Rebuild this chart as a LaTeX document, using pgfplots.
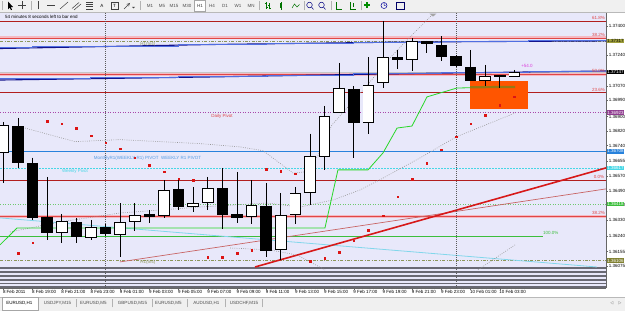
\documentclass[border=0pt]{standalone}
\usepackage{pgfplots}
\pgfplotsset{compat=1.18}
\usepackage{pgfplotstable}
\usepackage{fontspec}
\setmainfont{Liberation Sans}
\newcommand{\tf}{\fontsize{4.5}{5}\selectfont}
\definecolor{chartbg}{RGB}{232,232,250}
\definecolor{mttool}{RGB}{240,240,240}
\definecolor{fibred}{RGB}{225,70,70}
\definecolor{mtdarkred}{RGB}{178,30,30}
\definecolor{pinkhalo}{RGB}{245,185,195}
\definecolor{mtnavy}{RGB}{20,20,140}
\definecolor{mtroyal}{RGB}{80,110,225}
\definecolor{pivotblue}{RGB}{40,130,220}
\definecolor{pivotcyan}{RGB}{70,215,230}
\definecolor{pivotpurple}{RGB}{170,70,170}
\definecolor{dotgreen}{RGB}{110,200,110}
\definecolor{fibgreen}{RGB}{60,190,60}
\definecolor{mtlime}{RGB}{40,215,40}
\definecolor{trendred}{RGB}{215,25,25}
\definecolor{thinred}{RGB}{200,100,100}
\definecolor{mtlightcyan}{RGB}{130,215,235}
\definecolor{bandgray}{RGB}{150,150,150}
\definecolor{olivegray}{RGB}{140,150,90}
\definecolor{stripegray}{RGB}{105,105,115}
\definecolor{mtorange}{RGB}{255,85,0}
\definecolor{olivebar}{RGB}{150,120,20}
\definecolor{sardot}{RGB}{220,20,20}
\definecolor{mtmagenta}{RGB}{220,60,220}
\definecolor{boxolive}{RGB}{160,160,60}

\pgfplotstableread{
x o h l c
0 1.36701 1.36871 1.36534 1.36854
1 1.36848 1.36893 1.36617 1.36644
2 1.36644 1.36673 1.36330 1.36341
3 1.36346 1.36567 1.36219 1.36258
4 1.36258 1.36363 1.36203 1.36324
5 1.36319 1.36341 1.36203 1.36236
6 1.36230 1.36330 1.36219 1.36291
7 1.36291 1.36308 1.36241 1.36252
8 1.36247 1.36423 1.36125 1.36319
9 1.36319 1.36423 1.36269 1.36357
10 1.36363 1.36385 1.36313 1.36346
11 1.36352 1.36550 1.36341 1.36495
12 1.36501 1.36550 1.36385 1.36401
13 1.36401 1.36512 1.36374 1.36423
14 1.36423 1.36567 1.36385 1.36506
15 1.36506 1.36617 1.36280 1.36357
16 1.36363 1.36595 1.36313 1.36341
17 1.36346 1.36550 1.36308 1.36412
18 1.36407 1.36534 1.36125 1.36158
19 1.36164 1.36479 1.36109 1.36357
20 1.36357 1.36512 1.36308 1.36479
21 1.36479 1.36806 1.36412 1.36684
22 1.36679 1.36959 1.36606 1.36904
23 1.36920 1.37196 1.36920 1.37058
24 1.37053 1.37069 1.36673 1.36865
25 1.36865 1.37229 1.36806 1.37075
26 1.37086 1.37428 1.37058 1.37229
27 1.37229 1.37268 1.37163 1.37213
28 1.37213 1.37334 1.37152 1.37318
29 1.37318 1.37318 1.37251 1.37301
30 1.37296 1.37345 1.37207 1.37229
31 1.37235 1.37240 1.37174 1.37180
32 1.37174 1.37268 1.37097 1.37097
33 1.37097 1.37185 1.37069 1.37125
34 1.37130 1.37130 1.37058 1.37119
35 1.37119 1.37158 1.37119 1.37147
}\candles

\pgfplotstableread{
x y
1 1.36147
2 1.36203
3 1.36876
4 1.36860
5 1.36837
6 1.36795
7 1.36756
8 1.36723
9 1.36673
10 1.36633
11 1.36595
12 1.36556
13 1.36550
14 1.36125
15 1.36125
16 1.36147
17 1.36164
18 1.36611
19 1.36600
20 1.36584
21 1.36103
22 1.36120
23 1.36153
24 1.36214
25 1.36274
26 1.36352
27 1.36457
28 1.36556
29 1.36644
30 1.36717
31 1.36789
32 1.36860
33 1.36909
34 1.36964
35 1.37009
}\sar

\newcommand{\hlev}[2]{\addplot[#1] coordinates {(-0.226,#2) (41.28,#2)};}

\begin{document}
\begin{tikzpicture}[x=1pt,y=1pt]
\useasboundingbox (0,0) rectangle (625,311);
\fill[white] (0,0) rectangle (625,311);
% ---------- toolbar ----------
\fill[mttool] (0,299) rectangle (625,311);
\draw[gray!55] (0,298.8) -- (625,298.8);
\begin{scope}[line width=0.5pt, black!75]
 \draw[gray!60] (2,300.5) -- (2,309.5);
 \fill[black] (8,309.5) -- (8,301.5) -- (9.8,303.3) -- (11,300.8) -- (12,301.3) -- (10.8,303.8) -- (13,304) -- cycle;
 \draw (18,305.5) -- (26,305.5) (22,301.5) -- (22,309.5);
 \draw[gray!60] (31,300.5) -- (31,309.5);
 \draw (38,301.5) -- (38,309.5);
 \draw (47,305.5) -- (55,305.5);
 \draw (60,302) -- (68,309);
 \draw (72,302.5) -- (79,308.5) (74,301) -- (81,307);
 \draw (86,302) -- (93,302) (86,304.5)--(93,304.5) (86,307)--(93,307) (86,309)--(93,309);
 \node[font=\tf, black] at (102,305.3) {A};
 \draw (111,301.5) rectangle (118,309); \node[font=\tf, black] at (114.5,305.3) {T};
 \draw[-stealth] (124,302) -- (130,308);
 \fill (132,304) -- (135,304) -- (133.5,302.5) -- cycle;
 \draw[gray!60] (140,300.5)--(140,309.5);
 \fill[white] (194.5,300) rectangle (205.5,310.5); \draw[gray!70] (194.5,300) rectangle (205.5,310.5);
 \node[font=\tf, black!70] at (150,305.3) {M1};
 \node[font=\tf, black!70] at (162,305.3) {M5};
 \node[font=\tf, black!70] at (174,305.3) {M15};
 \node[font=\tf, black!70] at (187,305.3) {M30};
 \node[font=\tf, black!80] at (200,305.3) {H1};
 \node[font=\tf, black!70] at (212,305.3) {H4};
 \node[font=\tf, black!70] at (225,305.3) {D1};
 \node[font=\tf, black!70] at (238,305.3) {W1};
 \node[font=\tf, black!70] at (251,305.3) {MN};
 \draw[gray!60] (259,300.5)--(259,309.5);
 \draw[green!45!black] (266,302)--(266,309) (264.5,307.5)--(266,307.5) (266,304)--(267.5,304) (269.5,301.5)--(269.5,308) (268,306)--(269.5,306) (269.5,303)--(271,303);
 \draw[green!45!black] (281,301)--(281,309); \fill[green!45!black] (279.8,303) rectangle (282.2,307.5);
 \draw[green!45!black] (292,303)--(294.5,307)--(297,304)--(299.5,306.5);
 \draw[gray!60] (304,300.5)--(304,309.5);
 \draw[blue!50!black] (309.5,306) circle (2.8) (311.5,304)--(313.5,301.5);
 \draw[blue!50!black] (321.5,306) circle (2.8) (323.5,304)--(325.5,301.5);
 \draw[gray!60] (331,300.5)--(331,309.5);
 \draw[green!45!black] (336,302)--(336,309) (336,302)--(342,302);
 \draw[green!45!black] (350,302)--(350,309) (350,302)--(356,302) (353,304)--(353,308);
 \draw[gray!60] (361,300.5)--(361,309.5);
 \fill[green!55!black] (364,304.5) rectangle (370,306.5); \fill[green!55!black] (366,302.5) rectangle (368,308.5);
 \draw[blue!60!black] (384,305.5) circle (3) (384,305.5)--(384,307.5) (384,305.5)--(385.5,305.5);
 \draw[blue!40!black] (396,302) rectangle (404,309);
\end{scope}
% ---------- tab bar ----------
\fill[mttool] (0,0) rectangle (625,14);
\draw[gray!55] (0,14) -- (625,14);
\fill[white] (2,1) rectangle (38,13.6); \draw[gray!70] (2,1) rectangle (38,13.6);
\node[font=\tf] at (19.5,7.5) {EURUSD,H1};
\node[font=\tf, black!70] at (57.5,7.5) {USDJPY,M15};
\node[font=\tf, black!70] at (93.5,7.5) {EURUSD,M5};
\node[font=\tf, black!70] at (132.5,7.5) {GBPUSD,M15};
\node[font=\tf, black!70] at (168.5,7.5) {EURUSD,M5};
\node[font=\tf, black!70] at (206.5,7.5) {AUDUSD,H1};
\node[font=\tf, black!70] at (244,7.5) {USDCHF,M15};
\foreach \s in {76,112,152,187,225,262} {\draw[gray!60] (\s,3.5) -- (\s,11.5);}
\node[font=\tf, gray] at (612,7.5) {\(\triangleleft\)};
\node[font=\tf, gray] at (620,7.5) {\(\triangleright\)};
% ---------- chart ----------
\begin{axis}[
  at={(0pt,23pt)}, anchor=south west,
  width=606pt, height=275pt, scale only axis,
  xmin=-0.226, xmax=41.28, ymin=1.35954, ymax=1.37472,
  clip mode=individual,
  axis background/.style={fill=chartbg},
  axis x line*=bottom, axis y line*=right,
  axis line style={draw=black!60, line width=0.5pt, -},
  tick align=outside, major tick length=1.8pt,
  tick style={black!60, line width=0.4pt},
  scaled y ticks=false,
  xtick={0,2,...,34},
  xticklabels={8 Feb 2011, 8 Feb 19:00, 8 Feb 21:00, 8 Feb 23:00, 9 Feb 01:00, 9 Feb 03:00, 9 Feb 05:00, 9 Feb 07:00, 9 Feb 09:00, 9 Feb 11:00, 9 Feb 13:00, 9 Feb 15:00, 9 Feb 17:00, 9 Feb 19:00, 9 Feb 21:00, 9 Feb 23:00, 10 Feb 01:00, 10 Feb 03:00},
  xticklabel style={font=\tf, anchor=north west, inner sep=0.5pt, xshift=-1pt},
  ytick={1.36075,1.36155,1.36240,1.36330,1.36410,1.36490,1.36570,1.36655,1.36740,1.36820,1.36900,1.36990,1.37070,1.37240,1.37400},
  yticklabels={1.36075,1.36155,1.36240,1.36330,1.36410,1.36490,1.36570,1.36655,1.36740,1.36820,1.36900,1.36990,1.37070,1.37240,1.37400},
  yticklabel style={font=\tf, anchor=west, inner sep=0.5pt, xshift=0.3pt},
]
% bottom stripes
\hlev{stripegray, line width=1.8pt}{1.36065}
\hlev{stripegray, line width=1.8pt}{1.36043}
\hlev{stripegray, line width=1.8pt}{1.36020}
\hlev{stripegray, line width=1.8pt}{1.35998}
\hlev{stripegray, line width=1.8pt}{1.35979}
\hlev{stripegray, line width=1.8pt}{1.35960}
% horizontal levels
\hlev{mtdarkred, line width=0.8pt}{1.37428}
\hlev{pinkhalo, line width=3pt}{1.37334}
\hlev{fibred, line width=0.8pt}{1.37334}
\hlev{olivegray, line width=0.6pt, dash pattern=on 3pt off 1.5pt on 0.8pt off 1.5pt}{1.37317}
\hlev{gray!45, line width=0.7pt}{1.37147}
\hlev{pinkhalo, line width=3pt}{1.37133}
\hlev{fibred, line width=0.8pt}{1.37133}
\hlev{mtdarkred, line width=0.8pt}{1.37031}
\hlev{pivotpurple, line width=0.8pt, dash pattern=on 1pt off 1.5pt}{1.36923}
\hlev{pivotblue, line width=1.8pt}{1.36708}
\hlev{pivotcyan, line width=0.7pt, dash pattern=on 1.5pt off 1.5pt}{1.36617}
\hlev{mtdarkred, line width=0.9pt}{1.36548}
\hlev{dotgreen, line width=0.7pt, dash pattern=on 1pt off 1.5pt}{1.36415}
\hlev{pinkhalo, line width=3pt}{1.36349}
\hlev{fibred, line width=0.9pt}{1.36349}
\addplot[fibgreen, line width=0.9pt] coordinates {(-0.226,1.36238) (36.97,1.36238)};
\hlev{olivegray, line width=0.6pt, dash pattern=on 3pt off 1.5pt on 0.8pt off 1.5pt}{1.36106}
% moving-average style lines (navy with royal-blue steps)
\addplot[mtnavy, line width=1.1pt] coordinates {(-0.226,1.37276) (14.16,1.37298) (27.86,1.37312) (41.28,1.37318)};
\addplot[mtroyal, line width=0.9pt, const plot] coordinates {(-0.226,1.37282) (2,1.37287) (6,1.37290) (12,1.37298) (18,1.37304) (24,1.37309) (30,1.37315) (36,1.37318) (41.28,1.37318)};
\addplot[mtnavy, line width=1.1pt] coordinates {(-0.226,1.37102) (14.16,1.37119) (27.86,1.37138) (41.28,1.37152)};
\addplot[mtroyal, line width=0.9pt, const plot] coordinates {(-0.226,1.37108) (2,1.37111) (6,1.37116) (12,1.37122) (18,1.37127) (24,1.37136) (30,1.37144) (36,1.37149) (41.28,1.37149)};
% trend lines
\addplot[mtlightcyan, line width=0.8pt] coordinates {(-0.226,1.36341) (40.66,1.36070)};
\addplot[thinred, line width=0.7pt] coordinates {(7.99,1.36098) (41.28,1.36501)};
\addplot[trendred, line width=1.6pt] coordinates {(17.24,1.36070) (41.28,1.36617)};
% band lines (dotted)
\addplot[bandgray, line width=0.6pt, dash pattern=on 0.8pt off 1.4pt] coordinates {(1.486,1.36837) (4.911,1.36762) (7.993,1.36773) (13.47,1.36751) (16.21,1.36733) (17.79,1.36712) (19.84,1.36589) (20.66,1.36595) (21.55,1.36684) (22.51,1.36854) (23.54,1.36948) (24.77,1.37058) (26.35,1.37213) (27.86,1.37340) (29.36,1.37461)};
\addplot[bandgray, line width=0.6pt, dash pattern=on 0.8pt off 1.4pt] coordinates {(0.459,1.36263) (3.884,1.36319) (7.993,1.36368) (13.47,1.36401) (18.06,1.36423) (20.32,1.36401) (22.58,1.36440) (24.43,1.36495) (26.01,1.36561) (28.54,1.36672) (31.01,1.36788) (35.05,1.36920)};
\addplot[bandgray, line width=0.6pt, dash pattern=on 0.8pt off 1.4pt] coordinates {(15.53,1.36175) (18.27,1.36164) (20.12,1.36136) (22.03,1.36054)};
\addplot[bandgray, line width=0.6pt, dash pattern=on 0.8pt off 1.4pt] coordinates {(32.51,1.36054) (35.05,1.36192)};
% period separators
\addplot[black!65, line width=0.6pt, dash pattern=on 1pt off 1pt] coordinates {(7,1.35954) (7,1.37472)};
\addplot[black!65, line width=0.6pt, dash pattern=on 1pt off 1pt] coordinates {(31,1.35954) (31,1.37472)};
% step line (green)
\addplot[mtlime, line width=0.8pt] coordinates {(-0.226,1.36192) (0.938,1.36285) (22.03,1.36285) (22.92,1.36606) (24.98,1.36606) (26.01,1.36700) (26.97,1.36837) (27.99,1.36848) (29.02,1.37009) (31.07,1.37058) (35.05,1.37064)};
% rectangle
\addplot[fill=mtorange, draw=none] coordinates {(31.97,1.37097) (35.94,1.37097) (35.94,1.36942) (31.97,1.36942)} --cycle;
\addplot[olivebar, line width=2.2pt] coordinates {(31.97,1.37062) (35.05,1.37064)};
% parabolic SAR dots
\addplot[only marks, mark=square*, mark size=0.8pt, sardot] table[x=x, y=y] {\sar};
% candle wicks
\addplot[draw=none, mark=none, error bars/.cd, y dir=minus, y explicit, error mark=none,
  error bar style={draw=black, line width=0.8pt, solid}]
  table[x=x, y=h, y error minus expr={\thisrow{h}-\thisrow{l}}] {\candles};
% candle bodies (black outline)
\addplot[draw=none, mark=none, error bars/.cd, y dir=minus, y explicit, error mark=none,
  error bar style={draw=black, line width=11.6pt, line cap=butt, solid}]
  table[x=x, y expr={max(\thisrow{o},\thisrow{c})}, y error minus expr={abs(\thisrow{o}-\thisrow{c})}] {\candles};
% white bodies for rising candles
\addplot[draw=none, mark=none, error bars/.cd, y dir=minus, y explicit, error mark=none,
  error bar style={draw=white, line width=9.8pt, line cap=butt, solid}]
  table[x=x, y expr={\thisrow{c}-0.00005}, y error minus expr={max(\thisrow{c}-\thisrow{o}-0.0001,0)}] {\candles};
% texts
\node[font=\tf, anchor=west, inner sep=0] at (axis cs:0.116,1.37453) {54 minutes 8 seconds left to bar end};
\node[font=\tf, olivegray] at (axis cs:9.91,1.37301) {H1(5/4)};
\node[font=\tf, olivegray] at (axis cs:9.91,1.36094) {H1(5/4)};
\node[font=\tf, fibred] at (axis cs:14.98,1.36902) {Daily Pivot};
\node[font=\tf, pivotcyan] at (axis cs:4.91,1.36598) {Weekly Pivot};
\node[font=\tf, pivotblue!80] at (axis cs:9.88,1.36670) {MonthlyR1(WEEKLY R1) PIVOT\ \ WEEKLY R1 PIVOT};
\node[font=\tf, fibred] at (axis cs:40.77,1.37445) {61.8\%};
\node[font=\tf, fibred] at (axis cs:40.77,1.37349) {38.2\%};
\node[font=\tf, fibred] at (axis cs:40.77,1.37150) {50.0\%};
\node[font=\tf, fibred] at (axis cs:40.77,1.37047) {23.6\%};
\node[font=\tf, fibred] at (axis cs:40.8,1.36567) {0.0\%};
\node[font=\tf, fibred] at (axis cs:40.77,1.36366) {38.2\%};
\node[font=\tf, fibgreen] at (axis cs:37.5,1.36256) {100.0\%};
\node[font=\tf, mtmagenta] at (axis cs:35.87,1.37180) {+54.0};
\fill[gray!70] (axis cs:29.2,1.37468) -- (axis cs:29.66,1.37468) -- (axis cs:29.43,1.37452) -- cycle;
% price highlight boxes
\node[font=\tf, fill=boxolive, text=black, anchor=west, inner sep=0.6pt, xshift=0.6pt] at (axis cs:41.28,1.37317) {1.37317};
\node[font=\tf, fill=black, text=white, anchor=west, inner sep=0.6pt, xshift=0.6pt] at (axis cs:41.28,1.37147) {1.37147};
\node[font=\tf, fill=pivotpurple!85!black, text=white, anchor=west, inner sep=0.6pt, xshift=0.6pt] at (axis cs:41.28,1.36923) {1.36923};
\node[font=\tf, fill=pivotblue, text=white, anchor=west, inner sep=0.6pt, xshift=0.6pt] at (axis cs:41.28,1.36708) {1.36708};
\node[font=\tf, fill=pivotcyan, text=white, anchor=west, inner sep=0.6pt, xshift=0.6pt] at (axis cs:41.28,1.36617) {1.36617};
\node[font=\tf, fill=fibgreen, text=white, anchor=west, inner sep=0.6pt, xshift=0.6pt] at (axis cs:41.28,1.36418) {1.36418};
\node[font=\tf, fill=boxolive!80!black, text=white, anchor=west, inner sep=0.6pt, xshift=0.6pt] at (axis cs:41.28,1.36106) {1.36106};
\end{axis}
\end{tikzpicture}
\end{document}
